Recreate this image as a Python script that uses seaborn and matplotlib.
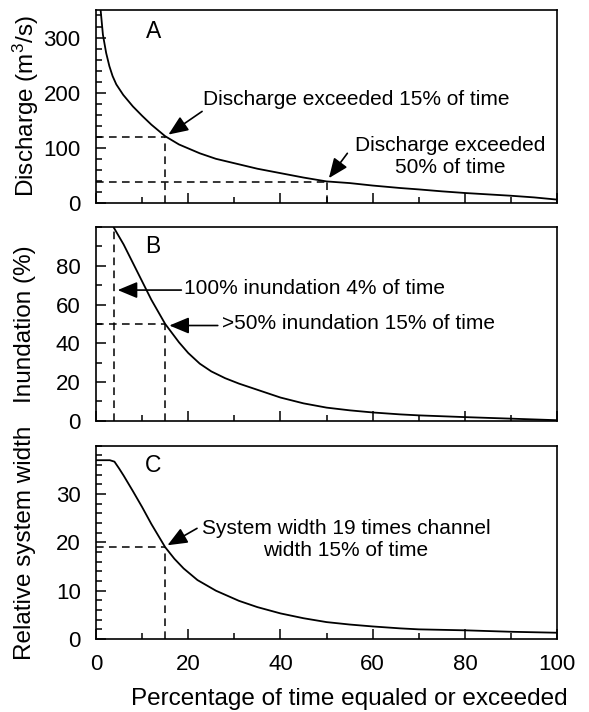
import numpy as np
import pandas as pd
import matplotlib
matplotlib.use("Agg")
import matplotlib.pyplot as plt
from matplotlib.ticker import MultipleLocator
import seaborn as sns

# ---------------- data ----------------
pct_A = [1.0, 1.5, 2.2, 2.9, 3.6, 4.4, 5.9, 8, 10, 12, 15, 18, 22.5, 26, 30, 35, 40,
         45, 50, 55, 60, 66, 70, 75, 80, 85, 90, 95, 100]
discharge = [350, 305, 272, 248, 230, 215, 196, 175, 158, 142, 121, 106, 90, 80, 72,
             62, 54, 46, 39, 36, 31.5, 27, 24.5, 21, 18, 15.5, 13, 10, 6]

pct_B = [3.8, 6, 8, 10, 12, 15, 18, 20, 22.5, 25, 28, 31, 35, 40, 45, 50, 55, 60,
         66, 70, 80, 90, 100]
inundation = [100, 91, 81.5, 72, 62.5, 50, 40.5, 35, 29.5, 25.5, 22, 19.2, 16.0, 12.0,
              9.0, 6.8, 5.4, 4.3, 3.3, 2.8, 1.9, 1.1, 0.3]

pct_C = [0, 3.0, 4.0, 5, 6, 8, 10, 12, 15, 17, 19, 22, 26, 31, 35, 40, 45, 50, 55,
         60, 66, 70, 80, 90, 100]
rel_width = [37, 37, 36.7, 35.3, 33.8, 30.6, 27.3, 23.8, 19.0, 16.6, 14.6, 12.2, 10.0,
             7.9, 6.6, 5.3, 4.3, 3.5, 3.0, 2.6, 2.2, 2.0, 1.8, 1.5, 1.3]

# reference (dashed) guide points: (percent, value)
ref_A = [(15, 120), (50, 38)]
ref_B = [(4, 100), (15, 50)]
ref_C = [(15, 19)]

panel_letters = ["A", "B", "C"]
ylabels = ["Discharge (m$^3$/s)", "Inundation (%)", "Relative system width"]
xlabel = "Percentage of time equaled or exceeded"
xticks = [0, 20, 40, 60, 80, 100]
yticks_A = [0, 100, 200, 300]
yticks_B = [0, 20, 40, 60, 80]
yticks_C = [0, 10, 20, 30]

# ---------------- style ----------------
sns.set_style("ticks")
plt.rcParams["font.family"] = ["Liberation Sans", "DejaVu Sans"]
plt.rcParams["mathtext.fontset"] = "custom"
plt.rcParams["mathtext.rm"] = "Liberation Sans"
plt.rcParams["mathtext.default"] = "regular"
plt.rcParams["axes.linewidth"] = 1.2
for k in ["text.color", "axes.labelcolor", "xtick.color", "ytick.color",
          "axes.edgecolor"]:
    plt.rcParams[k] = "black"

fig = plt.figure(figsize=(5.89, 7.12), dpi=100)
left, width = 0.163, 0.783
boxes = [(0.715, 0.271), (0.409, 0.272), (0.1025, 0.2715)]
axes = [fig.add_axes([left, b, width, h]) for b, h in boxes]

dfA = pd.DataFrame({"pct": pct_A, "val": discharge})
dfB = pd.DataFrame({"pct": pct_B, "val": inundation})
dfC = pd.DataFrame({"pct": pct_C, "val": rel_width})

ylims = [(0, 350), (0, 100), (0, 40)]
yticks_all = [yticks_A, yticks_B, yticks_C]
yminor = [20, 10, 2]
letter_pos = [(12.5, 311), (12.3, 90), (12.4, 35.9)]
ylabel_x = [-0.12, -0.13, -0.13]

dash = (0, (5, 3.5))
for ax, df, refs, ylim, ytk, ymn, lab, lp, let, lx in zip(
        axes, [dfA, dfB, dfC], [ref_A, ref_B, ref_C], ylims, yticks_all, yminor,
        ylabels, letter_pos, panel_letters, ylabel_x):
    sns.lineplot(data=df, x="pct", y="val", ax=ax, color="black", lw=1.3,
                 estimator=None, sort=False)
    for (px, py) in refs:
        ax.plot([px, px], [0, py], color="black", lw=1.1, ls=dash)
        if py < ylim[1]:
            ax.plot([0, px], [py, py], color="black", lw=1.1, ls=dash)
    ax.set_xlim(0, 100)
    ax.set_ylim(*ylim)
    ax.xaxis.set_major_locator(MultipleLocator(20))
    ax.xaxis.set_minor_locator(MultipleLocator(10))
    ax.set_yticks(ytk)
    ax.yaxis.set_minor_locator(MultipleLocator(ymn))
    ax.tick_params(which="both", direction="in", top=False, right=False,
                   width=1.1, colors="black")
    ax.tick_params(which="major", length=7, labelsize=16, pad=11)
    ax.tick_params(which="minor", length=4)
    ax.set_xlabel("")
    ax.set_ylabel(lab, fontsize=17.5)
    ax.yaxis.set_label_coords(lx, 0.5)
    ax.text(lp[0], lp[1], let, fontsize=16.5, ha="center", va="center")
    for s in ax.spines.values():
        s.set_linewidth(1.2)
        s.set_color("black")

for ax in axes[:2]:
    ax.tick_params(axis="x", labelbottom=False)
axes[2].set_xticks(xticks)
axes[2].set_xlabel(xlabel, fontsize=17.5)
axes[2].xaxis.set_label_coords(0.55, -0.255)

arrow = dict(arrowstyle="-|>,head_length=0.6,head_width=0.25", color="black",
             lw=1.2, mutation_scale=20, shrinkA=0, shrinkB=0)
fs = 15

axA, axB, axC = axes
# Panel A
axA.text(23.3, 187, "Discharge exceeded 15% of time", fontsize=fs,
         ha="left", va="center")
axA.annotate("", xy=(15.7, 124), xytext=(23.0, 166), arrowprops=arrow)
axA.text(76.8, 84, "Discharge exceeded\n50% of time", fontsize=fs,
         ha="center", va="center", linespacing=1.25)
axA.annotate("", xy=(50.5, 45), xytext=(54.5, 90), arrowprops=arrow)

# Panel B
axB.text(19.0, 68.5, "100% inundation 4% of time", fontsize=fs,
         ha="left", va="center")
axB.annotate("", xy=(4.7, 67.5), xytext=(18.5, 67.5), arrowprops=arrow)
axB.text(27.4, 50.2, ">50% inundation 15% of time", fontsize=fs,
         ha="left", va="center")
axB.annotate("", xy=(15.9, 49.2), xytext=(26.4, 49.2), arrowprops=arrow)

# Panel C
axC.text(54.2, 20.6, "System width 19 times channel\nwidth 15% of time",
         fontsize=fs, ha="center", va="center", linespacing=1.25)
axC.annotate("", xy=(15.5, 19.4), xytext=(21.9, 22.9), arrowprops=arrow)

fig.savefig("out.png", dpi=100)
